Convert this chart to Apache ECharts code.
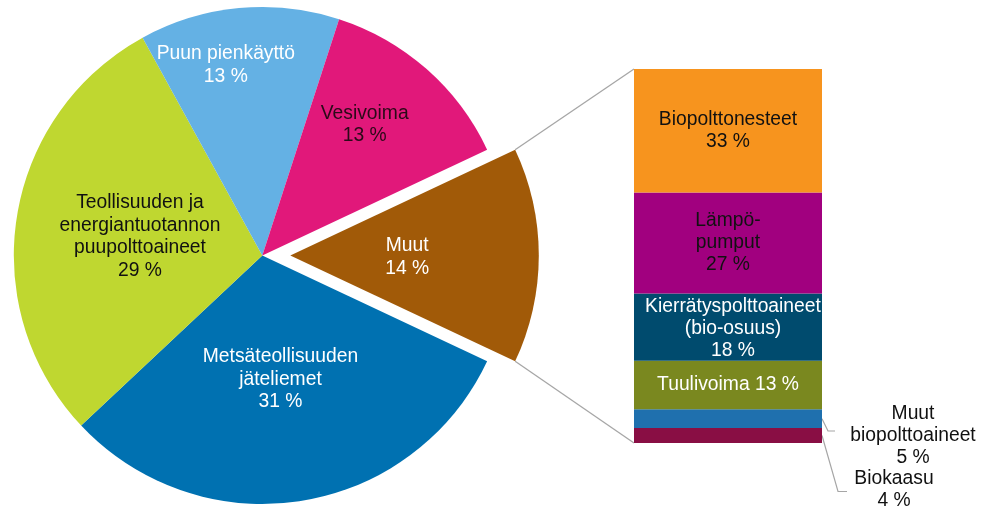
<!DOCTYPE html>
<html>
<head>
<meta charset="utf-8">
<script src="https://cdn.jsdelivr.net/npm/echarts@6/dist/echarts.min.js"></script>
<style>html,body{margin:0;padding:0;background:#fff;}#c{width:986px;height:510px;}</style>
</head>
<body>
<div id="c"></div>
<script>
// ---- data ----
var pieNames = ['Muut', 'Metsäteollisuuden\njäteliemet', 'Teollisuuden ja\nenergiantuotannon\npuupolttoaineet', 'Puun pienkäyttö', 'Vesivoima'];
var pieValues = [14, 31, 29, 13, 13];
var barNames = ['Biokaasu', 'Muut\nbiopolttoaineet', 'Tuulivoima', 'Kierrätyspolttoaineet\n(bio-osuus)', 'Lämpö-\npumput', 'Biopolttonesteet'];
var barValues = [4, 5, 13, 18, 27, 33];
var barCategory = ['Muut'];

// ---- styles ----
var FONT = '"Liberation Sans", Arial, sans-serif';
var FS = 19.3, LH = 22.6;
var pieColors = ['#A15A08', '#0071B1', '#BFD730', '#64B1E4', '#E1187A'];
var pieLabelColors = ['#ffffff', '#ffffff', '#111111', '#ffffff', '#2a0a18'];
// label centres relative to (slice's own) pie centre (px)
var pieLabelOffsets = [[116.9, 1.5], [18.2, 123.7], [-122.3, -19], [-36.5, -190.5], [102.4, -130.8]];
var barColors = ['#890E44', '#1F70AE', '#7A881F', '#004B6E', '#A1007F', '#F7941E'];
var barLabelColors = ['#111111', '#111111', '#ffffff', '#ffffff', '#111111', '#111111'];

var CX = 262.3, CY = 255.5, R = 248.5, EXPLODE = 28;
var START = 25.2;
var EXPLODED = 0; // index of the exploded slice
var GRID = {left: 634, top: 69, width: 188, height: 374};

// mid angle of exploded slice
var total = pieValues.reduce(function (a, b) { return a + b; }, 0);
var before = 0;
for (var k = 0; k < EXPLODED; k++) before += pieValues[k];
var midDeg = START - (before + pieValues[EXPLODED] / 2) / total * 360;
var midRad = midDeg * Math.PI / 180;
var EX = CX + EXPLODE * Math.cos(midRad), EY = CY - EXPLODE * Math.sin(midRad);

var chart = echarts.init(document.getElementById('c'), null, {renderer: 'canvas'});

function pieSeries(isExploded) {
  var cx = isExploded ? EX : CX, cy = isExploded ? EY : CY;
  return {
    type: 'pie',
    center: [cx, cy],
    radius: [0, R],
    startAngle: START,
    clockwise: true,
    silent: true,
    avoidLabelOverlap: false,
    emphasis: {disabled: true},
    itemStyle: {borderWidth: 0},
    label: {
      show: true, position: 'inside', fontFamily: FONT, fontSize: FS, lineHeight: LH,
      align: 'center', verticalAlign: 'middle',
      formatter: function (p) { return p.name + '\n' + p.value + ' %'; }
    },
    labelLine: {show: false},
    labelLayout: function (p) {
      var o = pieLabelOffsets[p.dataIndex];
      return {x: cx + o[0], y: cy + o[1], align: 'center', verticalAlign: 'middle'};
    },
    data: pieNames.map(function (n, i) {
      var visible = isExploded ? (i === EXPLODED) : (i !== EXPLODED);
      return {
        name: n, value: pieValues[i],
        itemStyle: {color: pieColors[i], opacity: visible ? 1 : 0},
        label: {show: visible, color: pieLabelColors[i]}
      };
    })
  };
}

var barSeries = barNames.map(function (n, i) {
  var lbl = {
    show: true, position: 'inside', color: barLabelColors[i],
    fontFamily: FONT, fontSize: FS, lineHeight: 22, align: 'center', verticalAlign: 'middle',
    formatter: function () { return (i === 2 ? n + ' ' : n + '\n') + barValues[i] + ' %'; }
  };
  if (i === 0) { lbl.position = [260, 62]; }
  if (i === 1) { lbl.position = [279, 26]; }
  if (i === 3) { lbl.offset = [5, 2]; }
  return {
    type: 'bar', name: n, stack: 'muut', barWidth: '100%',
    data: [barValues[i]],
    itemStyle: {color: barColors[i]},
    label: lbl,
    silent: true,
    emphasis: {disabled: true}
  };
});

var option = {
  animation: false,
  backgroundColor: '#ffffff',
  grid: {left: GRID.left, top: GRID.top, width: GRID.width, height: GRID.height, containLabel: false},
  xAxis: {type: 'category', data: barCategory, show: false},
  yAxis: {type: 'value', min: 0, max: 100, show: false},
  series: [pieSeries(false), pieSeries(true)].concat(barSeries)
};
chart.setOption(option);

// connector lines and leader lines
var half = pieValues[EXPLODED] / 2 / total * 2 * Math.PI;
var pTop = [EX + R * Math.cos(midRad + half), EY - R * Math.sin(midRad + half)];
var pBot = [EX + R * Math.cos(midRad - half), EY - R * Math.sin(midRad - half)];
var yTop = chart.convertToPixel({yAxisIndex: 0}, 100);
var yBot = chart.convertToPixel({yAxisIndex: 0}, 0);
var y4 = chart.convertToPixel({yAxisIndex: 0}, barValues[0]);
var y9 = chart.convertToPixel({yAxisIndex: 0}, barValues[0] + barValues[1]);
var xR = GRID.left + GRID.width;
var lineStyle = {stroke: '#A6A6A6', lineWidth: 1.3};
chart.setOption({
  graphic: [
    {type: 'line', shape: {x1: pTop[0], y1: pTop[1], x2: GRID.left, y2: yTop}, style: lineStyle, silent: true},
    {type: 'line', shape: {x1: pBot[0], y1: pBot[1], x2: GRID.left, y2: yBot}, style: lineStyle, silent: true},
    {type: 'polyline', shape: {points: [[xR, (y4 + y9) / 2], [xR + 6, 431], [xR + 13, 431]]}, style: {stroke: '#A6A6A6', lineWidth: 1.2, fill: null}, silent: true},
    {type: 'polyline', shape: {points: [[xR, (yBot + y4) / 2], [xR + 16, 491.5], [xR + 25, 491.5]]}, style: {stroke: '#A6A6A6', lineWidth: 1.2, fill: null}, silent: true}
  ]
});
</script>
</body>
</html>
